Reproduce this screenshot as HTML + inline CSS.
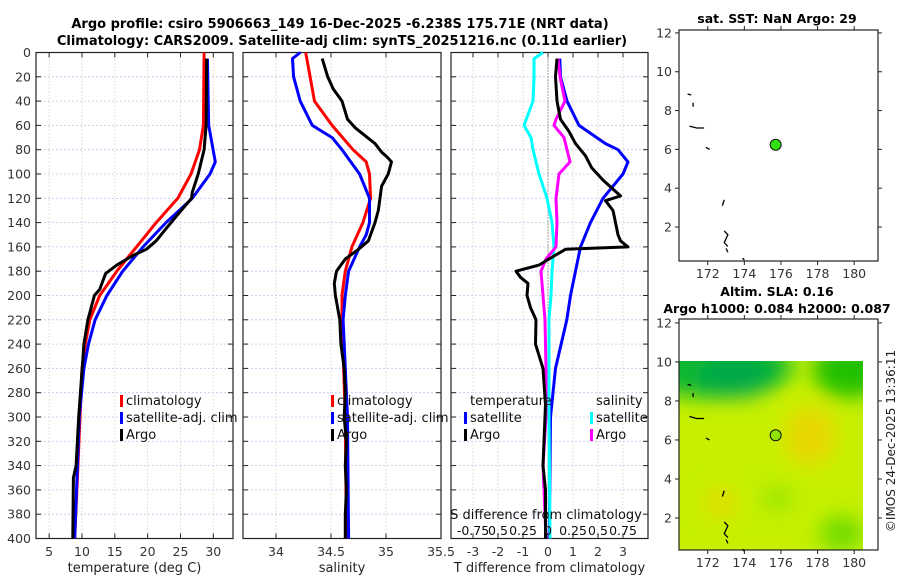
<!DOCTYPE html>
<html><head><meta charset="utf-8">
<style>
html,body{margin:0;padding:0;background:#fff;}
body{width:900px;height:580px;overflow:hidden;font-family:"Liberation Sans","DejaVu Sans",sans-serif;}
svg text{font-family:"DejaVu Sans","Liberation Sans",sans-serif;}
</style></head>
<body>
<svg id="fig" width="900" height="580" viewBox="0 0 900 580" xmlns="http://www.w3.org/2000/svg">
<defs>
<filter id="blur" x="-50%" y="-50%" width="200%" height="200%"><feGaussianBlur stdDeviation="10"/></filter>
<clipPath id="mapclip"><rect x="679" y="361" width="184" height="189"/></clipPath>
</defs>
<text x="340" y="28" text-anchor="middle" font-size="13" font-weight="bold">Argo profile: csiro 5906663_149 16-Dec-2025 -6.238S 175.71E (NRT data)</text>
<text x="342" y="45" text-anchor="middle" font-size="13" font-weight="bold">Climatology: CARS2009. Satellite-adj clim: synTS_20251216.nc (0.11d earlier)</text>
<g id="plots"></g>
<text x="777" y="23" text-anchor="middle" font-size="12.5" font-weight="bold">sat. SST: NaN Argo: 29</text>
<text x="777" y="296" text-anchor="middle" font-size="12.5" font-weight="bold">Altim. SLA: 0.16</text>
<text x="777" y="313" text-anchor="middle" font-size="12.5" font-weight="bold">Argo h1000: 0.084 h2000: 0.087</text>
<text transform="translate(895,441) rotate(-90)" text-anchor="middle" font-size="12" fill="#222">©IMOS 24-Dec-2025 13:36:11</text>
</svg>
<script>
// ---- data (depth in m) ----
const tClimDepth=[0,60,80,100,120,140,160,170,180,200,220,240,260,300,350,400];
const tClim=[28.6,28.5,27.9,26.6,24.6,21.3,18.3,16.8,15.3,12.7,11.2,10.5,10.0,9.7,9.3,8.9];
const tSatDepth=[5,60,75,90,100,120,140,160,180,200,220,240,260,300,400];
const tSat=[29.1,29.3,29.8,30.3,29.5,26.8,22.8,19.3,16.2,13.8,12.0,11.0,10.3,9.6,8.9];
const tArgoDepth=[5,60,80,100,115,120,130,145,155,162,167,175,182,195,200,220,240,300,340,350,400];
const tArgo=[29.0,28.9,28.6,27.7,26.8,26.7,25.1,22.8,21.3,19.8,17.8,15.3,13.6,12.7,11.9,10.9,10.3,9.5,9.1,8.7,8.6];

const sClimDepth=[0,20,40,60,80,90,100,120,140,160,180,200,220,300,400];
const sClim=[34.27,34.31,34.35,34.51,34.70,34.82,34.85,34.86,34.79,34.69,34.63,34.60,34.60,34.63,34.64];
const sSatDepth=[0,5,20,40,60,70,80,100,120,140,150,160,180,200,220,300,400];
const sSat=[34.22,34.15,34.16,34.22,34.33,34.51,34.60,34.76,34.85,34.85,34.82,34.76,34.66,34.63,34.61,34.65,34.66];
const sArgoDepth=[5,20,30,40,55,62,75,82,86,90,100,110,130,140,155,162,170,180,190,200,220,240,260,280,300,320,340,360,380,400];
const sArgo=[34.42,34.47,34.52,34.60,34.65,34.72,34.90,34.96,35.01,35.05,35.02,34.96,34.93,34.90,34.84,34.75,34.63,34.55,34.53,34.54,34.58,34.59,34.62,34.63,34.62,34.64,34.63,34.64,34.63,34.63];

const dSatSDepth=[0,5,20,40,60,70,80,100,120,140,160,180,200,220,300,400];
const dSatS=[-0.05,-0.14,-0.14,-0.15,-0.24,-0.17,-0.15,-0.09,-0.01,0.04,0.06,0.04,0.03,0.01,0.01,0.02];
const dArgoSDepth=[5,20,40,55,60,70,80,90,100,120,140,160,170,180,200,220,260,300,340,380,400];
const dArgoS=[0.10,0.12,0.17,0.08,0.06,0.16,0.19,0.22,0.11,0.08,0.09,0.08,-0.02,-0.07,-0.05,-0.03,-0.02,-0.02,-0.05,-0.03,-0.02];
const dSatTDepth=[5,20,40,60,75,80,90,100,120,140,160,180,200,220,260,300,400];
const dSatT=[0.47,0.5,0.76,1.24,2.3,2.8,3.2,3.0,2.2,1.7,1.3,1.1,0.9,0.75,0.3,0.1,0.05];
const dArgoTDepth=[5,20,40,55,65,75,85,95,105,118,122,130,140,150,155,160,162,168,175,180,185,190,200,210,220,240,260,290,340,360,400];
const dArgoT=[0.36,0.3,0.36,0.5,0.84,1.1,1.5,1.75,2.2,2.9,2.3,2.6,2.7,2.8,2.9,3.2,0.7,0.2,-0.36,-1.28,-1.1,-0.8,-0.84,-0.7,-0.48,-0.5,-0.2,-0.1,-0.2,-0.1,-0.1];

const depthTicks=[0,20,40,60,80,100,120,140,160,180,200,220,240,260,280,300,320,340,360,380,400];
const tTicks=[5,10,15,20,25,30];
const sTicks=[34,34.5,35,35.5];
const sTickLabels=["34","34.5","35","35.5"];
const dTTicks=[-3,-2,-1,0,1,2,3];
const sDiffLabels=["-0.75","0.5","0.25","0","0.25","0.5","0.75"];
const sDiffTicks=[-0.75,-0.5,-0.25,0,0.25,0.5,0.75];

const lonTicks=[172,174,176,178,180];
const latTicks=[2,4,6,8,10,12];
const argoLon=175.71, argoLat=6.24;

// ---- helpers ----
const NS="http://www.w3.org/2000/svg";
const root=document.getElementById('plots');
function mk(tag,attrs,parent){const e=document.createElementNS(NS,tag);for(const k in attrs)e.setAttribute(k,attrs[k]);(parent||root).appendChild(e);return e;}
const Y0=52.5,Y1=538.5;
function yD(d){return Y0+(d/400)*(Y1-Y0);}

function panel(x0,x1,vmin,vmax,ticks,labels,name,ylabels,xtitle){
  const xs=v=>x0+(v-vmin)/(vmax-vmin)*(x1-x0);
  const g=mk('g',{});
  
  
  ticks.forEach(t=>{const gl=mk('line',{x1:xs(t),x2:xs(t),y1:Y0,y2:Y1,stroke:'#e8c8b8','stroke-width':0.8,'stroke-dasharray':'1.5,2'},g);
    });
  depthTicks.forEach(d=>{const gl=mk('line',{x1:x0,x2:x1,y1:yD(d),y2:yD(d),stroke:'#c0c8ee','stroke-width':0.8,'stroke-dasharray':'2,2'},g);
    
    mk('line',{x1:x0,x2:x0+5,y1:yD(d),y2:yD(d),stroke:'#222'},g);
    mk('line',{x1:x1-5,x2:x1,y1:yD(d),y2:yD(d),stroke:'#222'},g);
    if(ylabels){const t=mk('text',{x:x0-5,y:yD(d)+4.5,'text-anchor':'end','font-size':12.5,fill:'#333'},g);t.textContent=d;
      }
  });
  ticks.forEach((t,i)=>{mk('line',{x1:xs(t),x2:xs(t),y1:Y1,y2:Y1-5,stroke:'#222'},g);mk('line',{x1:xs(t),x2:xs(t),y1:Y0,y2:Y0+5,stroke:'#222'},g);
    const tx=mk('text',{x:xs(t),y:556,'text-anchor':'middle','font-size':12.5,fill:'#333'},g);tx.textContent=labels[i];
    });
  const f=mk('rect',{x:x0,y:Y0,width:x1-x0,height:Y1-Y0,fill:'none',stroke:'#222','stroke-width':1.2},g);
  
  const tt=mk('text',{x:(x0+x1)/2,y:572,'text-anchor':'middle','font-size':13,fill:'#222'},g);tt.textContent=xtitle;
  
  return {xs,g};
}
function line(P,vals,depths,color,name,w){
  const pts=vals.map((v,i)=>P.xs(v).toFixed(1)+','+yD(depths[i]).toFixed(1)).join(' ');
  const l=mk('polyline',{points:pts,fill:'none',stroke:color,'stroke-width':w||3,'stroke-linejoin':'round'},P.g);
  
  
}
function legend(x,y,items,g){
  items.forEach((it,i)=>{
    mk('rect',{x:x,y:y+i*17-10,width:3,height:12,fill:it[1]},g);
    const t=mk('text',{x:x+6,y:y+i*17,'font-size':13,fill:'#111'},g);t.textContent=it[0];
    
    
  });
}

// Panel 1: temperature
const P1=panel(36,233,3,33,tTicks,tTicks.map(String),'temperature-panel',true,'temperature (deg C)');
line(P1,tClim,tClimDepth,'#ff0000','climatology-temp-line');
line(P1,tSat,tSatDepth,'#0000ff','satellite-temp-line');
line(P1,tArgo,tArgoDepth,'#000000','argo-temp-line');
legend(120,405,[['climatology','#f00'],['satellite-adj. clim','#00f'],['Argo','#000']],P1.g);

// Panel 2: salinity
const P2=panel(243,441,33.7,35.5,sTicks,sTickLabels,'salinity-panel',false,'salinity');
line(P2,sClim,sClimDepth,'#ff0000','climatology-salinity-line');
line(P2,sSat,sSatDepth,'#0000ff','satellite-salinity-line');
line(P2,sArgo,sArgoDepth,'#000000','argo-salinity-line');
legend(331,405,[['climatology','#f00'],['satellite-adj. clim','#00f'],['Argo','#000']],P2.g);

// Panel 3: differences
const P3=panel(451,648,-3.88,4.0,dTTicks,dTTicks.map(String),'difference-panel',false,'T difference from climatology');
const zx=P3.xs(0);
mk('line',{x1:zx,x2:zx,y1:Y0,y2:Y1,stroke:'#555','stroke-width':1,'stroke-dasharray':'1,2'},P3.g);
const PS={xs:v=>zx+v*100,g:P3.g};
line(P3,dSatT,dSatTDepth,'#0000ff','satellite-temp-diff-line');
line(PS,dSatS,dSatSDepth,'#00ffff','satellite-salinity-diff-line');
line(PS,dArgoS,dArgoSDepth,'#ff00ff','argo-salinity-diff-line');
line(P3,dArgoT,dArgoTDepth,'#000000','argo-temp-diff-line');
let t3=mk('text',{x:470,y:405,'font-size':13,fill:'#111'},P3.g);t3.textContent='temperature';
t3=mk('text',{x:596,y:405,'font-size':13,fill:'#111'},P3.g);t3.textContent='salinity';
legend(464,422,[['satellite','#00f'],['Argo','#000']],P3.g);
legend(590,422,[['satellite','#0ff'],['Argo','#f0f']],P3.g);
t3=mk('text',{x:546,y:519,'text-anchor':'middle','font-size':13,fill:'#111'},P3.g);t3.textContent='S difference from climatology';

sDiffTicks.forEach((v,i)=>{const t=mk('text',{x:PS.xs(v),y:535,'text-anchor':'middle','font-size':12.5,fill:'#111'},P3.g);t.textContent=sDiffLabels[i];
  });

// Maps
function map(y0,y1,latTop,latBot,name,field){
  const x0=679,x1=878,lonL=170.43,lonR=181.3;
  const xs=v=>x0+(v-lonL)/(lonR-lonL)*(x1-x0);
  const ys=v=>y0+(latTop-v)/(latTop-latBot)*(y1-y0);
  const g=mk('g',{});
  
  
  if(field){
    const fg=mk('g',{'clip-path':'url(#mapclip)'},g);
    const bf=mk('rect',{x:679,y:361,width:184,height:189,fill:'#c6f000'},fg);
    
    const bl=mk('g',{filter:'url(#blur)'},fg);
    mk('ellipse',{cx:xs(172.3),cy:ys(9.8),rx:80,ry:32,fill:'#10b830'},bl);
    mk('ellipse',{cx:xs(173.5),cy:ys(9.2),rx:38,ry:20,fill:'#06a848'},bl);
    mk('ellipse',{cx:xs(179.8),cy:ys(9.6),rx:38,ry:28,fill:'#20c000'},bl);
    mk('ellipse',{cx:xs(177.6),cy:ys(6.2),rx:26,ry:30,fill:'#e8d800'},bl);
    mk('ellipse',{cx:xs(172.7),cy:ys(2.8),rx:16,ry:16,fill:'#e2dc00'},bl);
    mk('ellipse',{cx:xs(179.3),cy:ys(1.2),rx:22,ry:18,fill:'#70dc00'},bl);
    mk('ellipse',{cx:xs(175.8),cy:ys(3),rx:16,ry:12,fill:'#98e600'},bl);
  }
  const f=mk('rect',{x:x0,y:y0,width:x1-x0,height:y1-y0,fill:'none',stroke:'#222','stroke-width':1.2},g);
  
  if(field){mk('rect',{x:863,y:361,width:14,height:188,fill:'#fff'},g);}
  lonTicks.forEach(v=>{mk('line',{x1:xs(v),x2:xs(v),y1:y1,y2:y1+4,stroke:'#222'},g);mk('line',{x1:xs(v),x2:xs(v),y1:y0,y2:y0-4,stroke:'#222'},g);
    const t=mk('text',{x:xs(v),y:y1+17,'text-anchor':'middle','font-size':12.5,fill:'#333'},g);t.textContent=v;
    });
  latTicks.forEach(v=>{mk('line',{x1:x0,x2:x0-4,y1:ys(v),y2:ys(v),stroke:'#222'},g);mk('line',{x1:x1,x2:x1+4,y1:ys(v),y2:ys(v),stroke:'#222'},g);
    const t=mk('text',{x:x0-7,y:ys(v)+4.5,'text-anchor':'end','font-size':12.5,fill:'#333'},g);t.textContent=v;
    });
  const coast=[[[170.9,8.85],[171.1,8.8]],[[171.2,8.4],[171.2,8.2]],[[171,7.2],[171.4,7.1],[171.8,7.1]],[[171.9,6.1],[172.1,6.0]],[[172.9,3.4],[172.8,3.1]],[[172.9,1.8],[173.1,1.6],[172.9,1.2],[173.1,1.0]],[[173,0.9],[173.1,0.7]],[[173.9,0.4],[174,0.3]]];
  coast.forEach(c=>{const p=mk('polyline',{points:c.map(q=>xs(q[0])+','+ys(q[1])).join(' '),fill:'none',stroke:'#000','stroke-width':1.3},g);
    });
  const c=mk('circle',{cx:xs(argoLon),cy:ys(argoLat),r:5.5,fill:field?'#90e000':'#30e010',stroke:'#111','stroke-width':1},g);
  
}
map(30,261,12.15,0.25,'sst-map',false);
map(319,550,12.2,0.36,'sla-map',true);
</script>
</body></html>
